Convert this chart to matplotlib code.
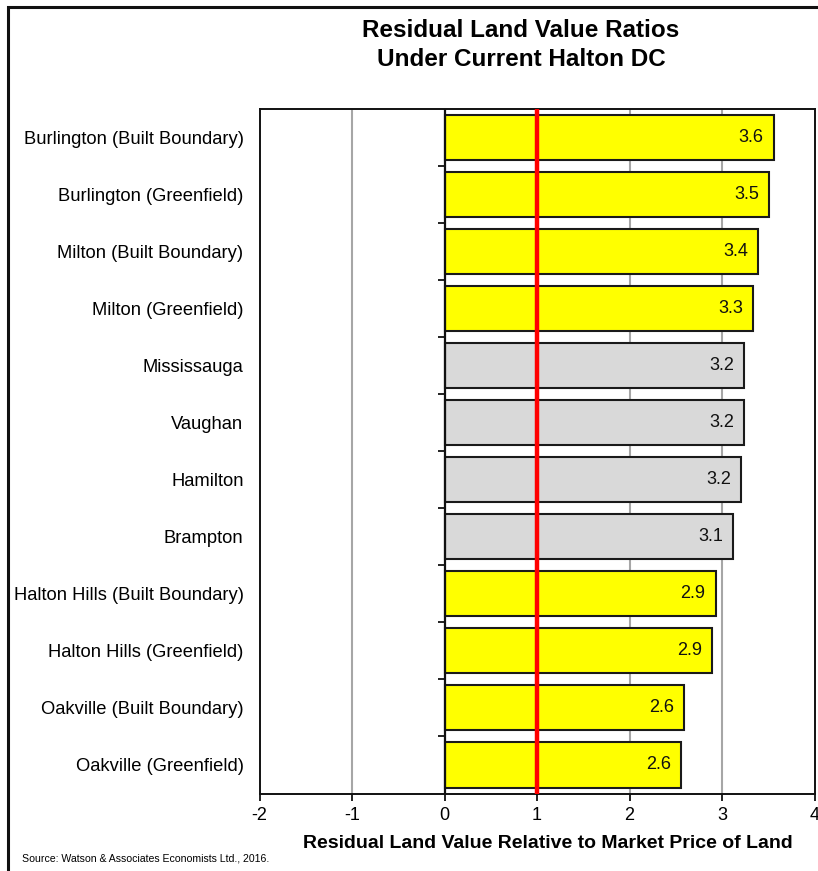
import matplotlib
matplotlib.use("Agg")
import matplotlib.pyplot as plt
from matplotlib.patches import Rectangle
import numpy as np

categories = [
    "Burlington (Built Boundary)",
    "Burlington (Greenfield)",
    "Milton (Built Boundary)",
    "Milton (Greenfield)",
    "Mississauga",
    "Vaughan",
    "Hamilton",
    "Brampton",
    "Halton Hills (Built Boundary)",
    "Halton Hills (Greenfield)",
    "Oakville (Built Boundary)",
    "Oakville (Greenfield)",
]
ratios = [3.56, 3.51, 3.39, 3.34, 3.24, 3.24, 3.21, 3.12, 2.93, 2.89, 2.59, 2.56]
is_halton = [True, True, True, True, False, False, False, False, True, True, True, True]
threshold = 1.0
x_ticks = [-2, -1, 0, 1, 2, 3, 4]

plt.rcParams["font.family"] = ["Liberation Sans", "DejaVu Sans"]

W, H = 818, 871
fig = plt.figure(figsize=(W / 100, H / 100), dpi=100)
ax = fig.add_axes([259.5 / W, 1 - 793.5 / H, (814.5 - 259.5) / W, (793.5 - 109) / H])

n = len(categories)
y = np.arange(n)
colors = ["#FFFF00" if h else "#D9D9D9" for h in is_halton]

# vertical gridlines
for t in x_ticks[1:-1]:
    if t != 0:
        ax.axvline(t, color="#A6A6A6", lw=1.5, zorder=0)

ax.barh(y, ratios, height=0.79, color=colors, edgecolor="#1a1a1a", linewidth=1.5, zorder=2)

for yi, v in zip(y, ratios):
    ax.text(v - 0.11, yi, f"{v:.1f}", ha="right", va="center", fontsize=13, color="#111111", zorder=4)

# zero line with category separator ticks
ax.axvline(0, color="#111111", lw=1.6, zorder=3)
bounds = np.arange(n + 1) - 0.5
ax.hlines(bounds[1:-1], -0.07, 0, color="#111111", lw=1.3, zorder=3)

ax.axvline(threshold, color="#FF0000", lw=3.2, zorder=5)

ax.set_xlim(x_ticks[0], x_ticks[-1])
ax.set_ylim(n - 0.5, -0.5)
ax.set_xticks(x_ticks)
ax.set_xticklabels([str(t) for t in x_ticks], fontsize=13)
ax.set_yticks(y)
ax.set_yticklabels(categories, fontsize=13.2)
ax.tick_params(axis="y", length=0, pad=11.5)
ax.tick_params(axis="x", length=5, width=1.3, direction="out", pad=5, color="#111111")
for s in ax.spines.values():
    s.set_linewidth(1.4)
    s.set_color("#111111")

fig.text(548 / W, 1 - 843 / H, "Residual Land Value Relative to Market Price of Land",
         ha="center", va="center", fontsize=14, fontweight="bold")

fig.text(521 / W, 1 - 45 / H, "Residual Land Value Ratios\nUnder Current Halton DC",
         ha="center", va="center", fontsize=17.5, fontweight="bold", linespacing=1.32)

fig.text(22 / W, 1 - 858 / H, "Source: Watson & Associates Economists Ltd., 2016.",
         ha="left", va="center", fontsize=7.6)

# outer frame
fig.patches.append(Rectangle((8 / W, -0.01), 1.0, 1 - 6.5 / H + 0.01, transform=fig.transFigure,
                             fill=False, edgecolor="#111111", lw=2.2))

fig.savefig("out.png", dpi=100)
